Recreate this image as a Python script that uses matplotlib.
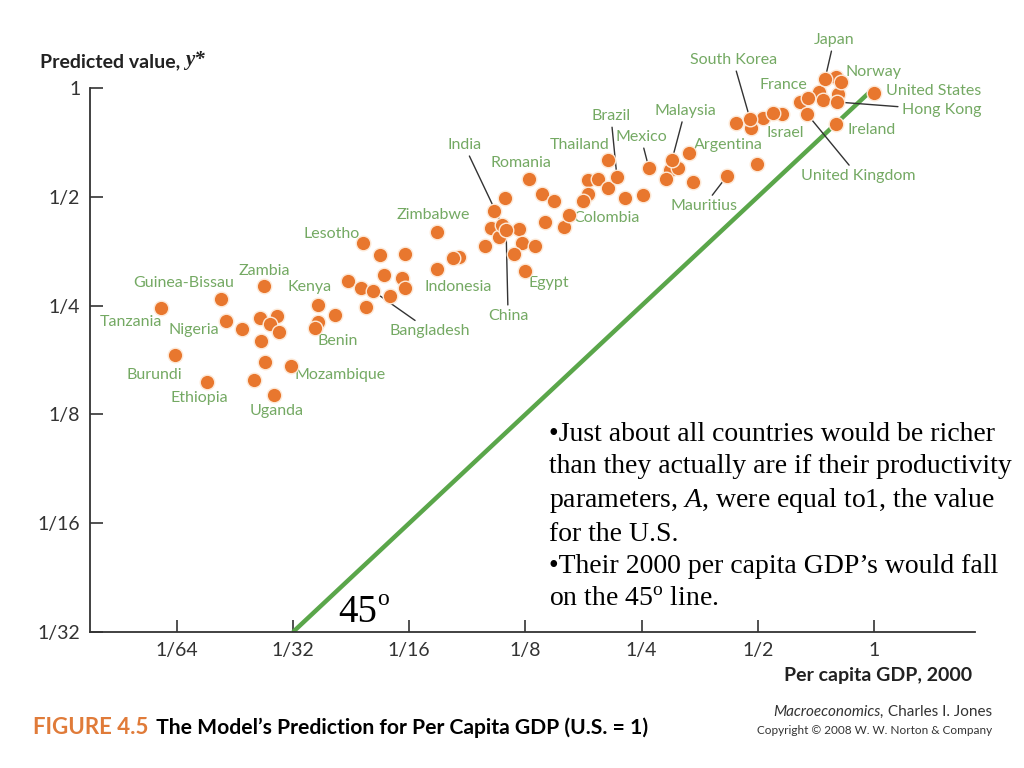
import numpy as np
import matplotlib
matplotlib.use("Agg")
import matplotlib.pyplot as plt
from matplotlib import font_manager

# =========================================================
# Fonts
# =========================================================
names = {f.name for f in font_manager.fontManager.ttflist}
COND = "Liberation Sans Narrow" if "Liberation Sans Narrow" in names else "Lato"
SERIF = "Liberation Serif"

plt.rcParams["mathtext.fontset"] = "custom"
plt.rcParams["mathtext.rm"] = SERIF
plt.rcParams["mathtext.it"] = SERIF + ":italic"

# =========================================================
# Data (U.S. = 1)
# =========================================================
countries = ["Japan", "Norway", "United States", "Hong Kong", "South Korea",
             "France", "Israel", "Ireland", "United Kingdom", "Malaysia",
             "Brazil", "Mexico", "Argentina", "Thailand", "India", "Romania",
             "Mauritius", "Colombia", "Zimbabwe", "Lesotho", "Egypt", "China",
             "Indonesia", "Bangladesh", "Zambia", "Kenya", "Guinea-Bissau",
             "Tanzania", "Nigeria", "Benin", "Burundi", "Mozambique",
             "Ethiopia", "Uganda"]
gdp = [0.7465, 0.8214, 1.0, 0.8023, 0.4774,
       0.6746, 0.5474, 0.7970, 0.6706, 0.2997,
       0.2158, 0.2611, 0.3317, 0.2047, 0.1088, 0.1277,
       0.4159, 0.1621, 0.0738, 0.0474, 0.1248, 0.1114,
       0.0738, 0.0504, 0.0263, 0.0363, 0.0203,
       0.0142, 0.0210, 0.0356, 0.0155, 0.0309,
       0.0187, 0.0279]
pred = [1.059, 1.039, 0.970, 0.9146, 0.8208,
        0.9383, 0.8527, 0.7951, 0.8473, 0.6330,
        0.5670, 0.6007, 0.6611, 0.6330, 0.4178, 0.5600,
        0.5705, 0.4446, 0.3987, 0.3727, 0.3117, 0.4044,
        0.3158, 0.2743, 0.2832, 0.2510, 0.2608,
        0.2462, 0.2265, 0.2168, 0.1825, 0.1701,
        0.1536, 0.1414]

# unlabelled countries
other_gdp = [0.0231, 0.0257, 0.0284, 0.0272, 0.0288, 0.0258, 0.0264, 0.0248,
             0.0401, 0.0363, 0.0525, 0.0610, 0.0538, 0.0599, 0.0610, 0.0434,
             0.0469, 0.0558, 0.0483, 0.0840, 0.0810, 0.0983, 0.1106, 0.1037,
             0.1018, 0.1067, 0.1203, 0.1225, 0.1324, 0.1168, 0.1380, 0.1480,
             0.1405, 0.1571, 0.1817, 0.1929, 0.1817, 0.1765, 0.2047, 0.2265,
             0.2521, 0.2960, 0.2891, 0.3105, 0.3400, 0.4382, 0.4800, 0.5158,
             0.5775, 0.4976, 0.6430, 0.7201, 0.7377, 0.7970, 0.8067]
other_pred = [0.2155, 0.2310, 0.2340, 0.2222, 0.2112, 0.1995, 0.1746, 0.1555,
              0.2355, 0.2251, 0.3448, 0.3472, 0.3034, 0.2980, 0.2797, 0.2922,
              0.2797, 0.2657, 0.2478, 0.3413, 0.3387, 0.3657, 0.4962, 0.4567,
              0.4100, 0.3871, 0.4070, 0.3727, 0.3657, 0.3472, 0.5090, 0.4866,
              0.4259, 0.4129, 0.5563, 0.5600, 0.5090, 0.4866, 0.5288, 0.4962,
              0.5059, 0.5932, 0.5600, 0.6007, 0.5494, 0.8000, 0.7748, 0.8258,
              0.8473, 0.6160, 0.9146, 0.9748, 0.9265, 1.073, 0.9626]

# label offsets (pixels from the dot) and whether a leader line is drawn
label_pos = {
    "Japan": (9, 39, "center", True), "Norway": (32, 10, "center", False),
    "United States": (12, 2, "left", False), "Hong Kong": (65, -8, "left", True),
    "South Korea": (-17, 59, "center", True), "France": (-25, 13, "center", False),
    "Israel": (12, -20, "center", False), "Ireland": (12, -6, "left", False),
    "United Kingdom": (51, -62, "center", True), "Malaysia": (13, 49, "center", True),
    "Brazil": (-6, 61, "center", True), "Mexico": (-8, 31, "center", True),
    "Argentina": (39, 8, "center", False), "Thailand": (-28, 15, "center", False),
    "India": (-38, 80, "center", True), "Romania": (-8, 16, "center", False),
    "Mauritius": (-23, -30, "center", True), "Colombia": (37, -3, "center", False),
    "Zimbabwe": (-4, 17, "center", False), "Lesotho": (-31, 9, "center", False),
    "Egypt": (24, -12, "center", False), "China": (2, -86, "center", True),
    "Indonesia": (21, -18, "center", False), "Bangladesh": (57, -40, "center", True),
    "Zambia": (0, 15, "center", False), "Kenya": (-9, 18, "center", False),
    "Guinea-Bissau": (-37, 16, "center", False), "Tanzania": (-30, -14, "center", False),
    "Nigeria": (-33, -9, "center", False), "Benin": (23, -13, "center", False),
    "Burundi": (-21, -20, "center", False), "Mozambique": (49, -9, "center", False),
    "Ethiopia": (-8, -16, "center", False), "Uganda": (3, -16, "center", False),
}

ticks = [1/64, 1/32, 1/16, 1/8, 1/4, 1/2, 1]
tick_labels = ["1/64", "1/32", "1/16", "1/8", "1/4", "1/2", "1"]
yticks = [1/32, 1/16, 1/8, 1/4, 1/2, 1]
ytick_labels = ["1/32", "1/16", "1/8", "1/4", "1/2", "1"]

ORANGE = "#e8772e"
GREEN_LINE = "#5aa64a"
GREEN_TEXT = "#74a963"
DARK = "#333333"

# =========================================================
# Plot
# =========================================================
fig = plt.figure(figsize=(10.24, 7.68), dpi=100)
ax = fig.add_axes([90/1024, 1 - 632/768, 885/1024, 602/768])
ax.set_xscale("log", base=2)
ax.set_yscale("log", base=2)
ax.set_xlim(2 ** -6.747, 2 ** 0.869)
ax.set_ylim(1/32, 2 ** 0.533)

# 45 degree line
ax.plot([1/32, 1], [1/32, 1], color=GREEN_LINE, lw=3.2, solid_capstyle="butt", zorder=2)

ax.scatter(other_gdp, other_pred, s=110, color=ORANGE, edgecolor="#fde8d6",
           linewidth=1.0, zorder=4, clip_on=False)
ax.scatter(gdp, pred, s=110, color=ORANGE, edgecolor="#fde8d6",
           linewidth=1.0, zorder=4, clip_on=False)

for name, x, y in zip(countries, gdp, pred):
    dx, dy, ha, leader = label_pos[name]
    kw = {}
    if leader:
        kw["arrowprops"] = dict(arrowstyle="-", color=DARK, lw=1.0,
                                shrinkA=1, shrinkB=0)
    ax.annotate(name, xy=(x, y), xytext=(dx, dy), textcoords="offset pixels",
                ha=ha, va="center", fontsize=11.5, color=GREEN_TEXT,
                family=COND, annotation_clip=False, **kw)

# axes styling
for s in ["top", "right"]:
    ax.spines[s].set_visible(False)
ax.spines["left"].set_bounds(1/32, 1)
ax.spines["left"].set_color(DARK)
ax.spines["bottom"].set_color(DARK)
ax.spines["left"].set_linewidth(1.3)
ax.spines["bottom"].set_linewidth(1.3)

ax.set_xticks(ticks)
ax.set_xticklabels(tick_labels)
ax.set_yticks(yticks)
ax.set_yticklabels(ytick_labels)
ax.minorticks_off()
ax.tick_params(direction="in", length=9, width=1.2, color=DARK,
               labelcolor=DARK, labelsize=14, pad=7)
for lab in ax.get_xticklabels() + ax.get_yticklabels():
    lab.set_family(COND)

# axis titles
t = fig.text(40/1024, 1 - 62/768, "Predicted value, ", fontsize=14,
             fontweight="bold", family=COND, color="#222222", va="center")
ax.annotate("y*", xy=(1, 0), xycoords=t, fontsize=15, fontweight="bold",
            fontstyle="italic", family=SERIF, color="#222222", va="bottom")
fig.text(972/1024, 1 - 675/768, "Per capita GDP, 2000", fontsize=14,
         fontweight="bold", family=COND, color="#222222", ha="right", va="center")

# 45 degree marker
t45 = fig.text(338/1024, 1 - 612/768, "45", fontsize=28, family=SERIF,
               color="black", va="center")
ax.annotate("o", xy=(1, 0.55), xycoords=t45, fontsize=17, family=SERIF,
            color="black", va="bottom")

# note
note = ("\u2022Just about all countries would be richer\n"
        "than they actually are if their productivity\n"
        "parameters, $A$, were equal to1, the value\n"
        "for the U.S.\n"
        "\u2022Their 2000 per capita GDP\u2019s would fall\n"
        "on the 45$^{\\mathrm{o}}$ line.")
fig.text(549/1024, 1 - 422/768, note, fontsize=20, family=SERIF,
         color="black", va="top", ha="left", linespacing=1.36)

# figure caption
cap = fig.text(33/1024, 1 - 728/768, "FIGURE 4.5", fontsize=16, fontweight="bold",
               family=COND, color="#e07b39", va="center")
ax.annotate(" The Model\u2019s Prediction for Per Capita GDP (U.S. = 1)",
            xy=(1, 0), xycoords=cap, xytext=(3, 0), textcoords="offset pixels",
            fontsize=15.2, fontweight="bold",
            family=COND, color="black", va="bottom")

credit = fig.text(992/1024, 1 - 712/768, " Charles I. Jones", fontsize=11,
                  family=COND, color="#333333", ha="right", va="center")
ax.annotate("Macroeconomics,", xy=(0, 0), xycoords=credit, fontsize=11,
            fontstyle="italic", family=COND, color="#333333", ha="right", va="bottom")
fig.text(992/1024, 1 - 730/768, "Copyright \u00a9 2008 W. W. Norton & Company",
         fontsize=8.5, family=COND, color="#333333", ha="right", va="center")

fig.savefig("out.png", dpi=100)
